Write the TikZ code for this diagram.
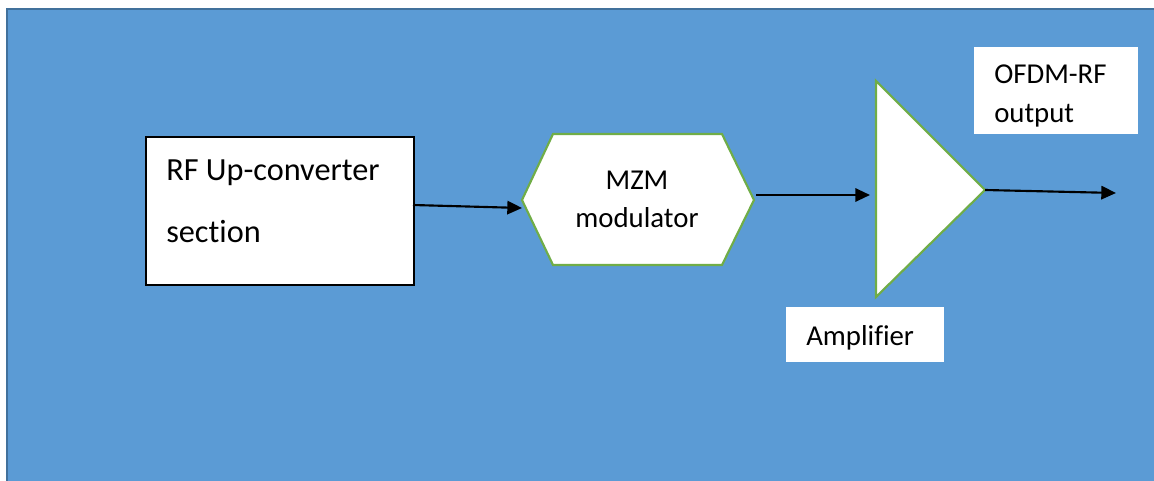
\documentclass[tikz,border=0pt]{standalone}
\usepackage{fontspec}
\setmainfont{Carlito}[Ligatures=CommonOff]
\usetikzlibrary{arrows.meta}
\definecolor{bgblue}{HTML}{5B9BD5}
\definecolor{bordblue}{HTML}{41719C}
\definecolor{grn}{HTML}{70AD47}
\tikzset{
  conn/.style={draw=black, line width=1.6pt, -{Triangle[length=11pt,width=10pt]}},
  greenshape/.style={draw=grn, line width=1.6pt, fill=white},
  lbl/.style={anchor=base west, inner sep=0pt, font=\fontsize{21.6}{26}\selectfont},
  biglbl/.style={lbl, font=\fontsize{24.2}{28}\selectfont},
  whitebox/.style={fill=white, draw=none}
}
\begin{document}
\begin{tikzpicture}[x=0.75pt,y=-0.75pt]
\useasboundingbox (0,0) rectangle (1154,481);
\fill[white] (0,0) rectangle (1154,481);
\fill[bgblue] (7,9) rectangle (1160,490);
\draw[bordblue, line width=1.5pt] (7,490) -- (7,9) -- (1160,9);
% RF box
\node[draw=black, line width=1pt, fill=white, minimum width=268*0.75pt, minimum height=148*0.75pt, inner sep=0pt] (rf) at (280,211) {};
\node[biglbl] (rft1) at (166,181) {RF Up-converter};
\node[biglbl] (rft2) at (166,243) {section};
% hexagon
\draw[greenshape] (522,200) -- (553,134) -- (722,134) -- (754,200) -- (722,265) -- (553,265) -- cycle;
\coordinate (hexL) at (522,208);
\coordinate (hexR) at (756,195);
\node[lbl, anchor=base] (mzm1) at (637,190) {MZM};
\node[lbl, anchor=base] (mzm2) at (637,228) {modulator};
% triangle
\draw[greenshape] (876,81) -- (985,190) -- (876,297) -- cycle;
\coordinate (triL) at (870,195);
\coordinate (triR) at (985,190);
\coordinate (out) at (1116,193);
% label boxes
\node[whitebox, minimum width=164*0.75pt, minimum height=87*0.75pt, inner sep=0pt] (ofdmbox) at (1056,90.5) {};
\node[lbl] (ofdm1) at (994,84) {OFDM-RF};
\node[lbl] (ofdm2) at (994,123) {output};
\node[whitebox, minimum width=158*0.75pt, minimum height=55*0.75pt, inner sep=0pt] (ampbox) at (865,334.5) {};
\node[lbl] (amp) at (806,345) {Amplifier};
% connectors
\coordinate (rfR) at (413,205);
\draw[conn] (rfR) -- (hexL);
\draw[conn] (hexR) -- (triL);
\draw[conn] (triR) -- (out);
\end{tikzpicture}
\end{document}
